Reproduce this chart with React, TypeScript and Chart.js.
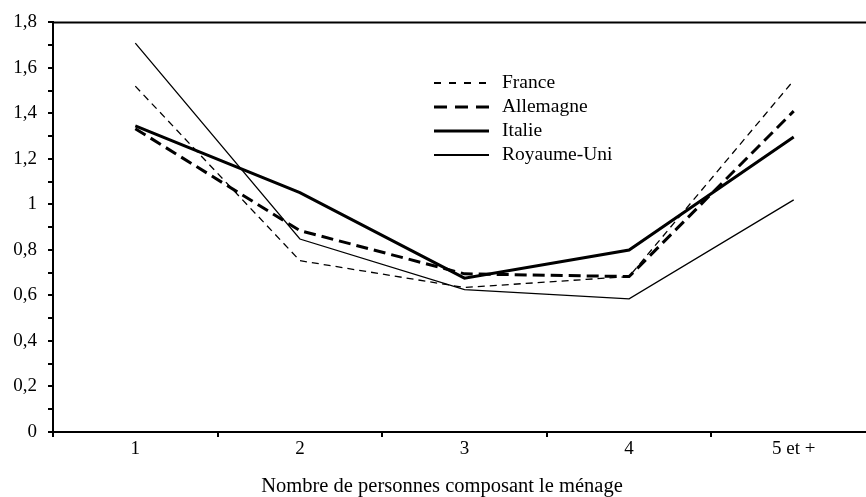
import React, { useEffect, useRef } from "react";
import { Chart, registerables } from "chart.js";

Chart.register(...registerables);

const categories = ["1", "2", "3", "4", "5 et +"];
const france = [1.52, 0.753, 0.635, 0.683, 1.545];
const allemagne = [1.333, 0.885, 0.695, 0.683, 1.41];
const italie = [1.345, 1.052, 0.676, 0.8, 1.296];
const royaumeUni = [1.709, 0.848, 0.626, 0.585, 1.02];
const seriesNames = ["France", "Allemagne", "Italie", "Royaume-Uni"];
const xTitle = "Nombre de personnes composant le ménage";
const yMin = 0;
const yMax = 1.8;
const yStep = 0.1;

const FONT = "'Liberation Serif', 'Times New Roman', serif";

const frameAndLegend = {
  id: "frameAndLegend",
  afterDraw(chart: any) {
    const { ctx, chartArea } = chart;
    const w = chartArea.right - chartArea.left;
    ctx.save();
    // top frame line
    ctx.strokeStyle = "#000";
    ctx.lineWidth = 2;
    ctx.setLineDash([]);
    ctx.beginPath();
    ctx.moveTo(chartArea.left, chartArea.top);
    ctx.lineTo(chartArea.right, chartArea.top);
    ctx.stroke();

    // legend
    const lx0 = chartArea.left + w * ((434 - 53) / 823);
    const lx1 = chartArea.left + w * ((489 - 53) / 823);
    const tx = chartArea.left + w * ((502 - 53) / 823);
    const y0 = 83;
    const dy = 24;
    ctx.font = `19.5px ${FONT}`;
    ctx.fillStyle = "#000";
    ctx.textBaseline = "middle";
    ctx.textAlign = "left";
    chart.data.datasets.forEach((ds: any, i: number) => {
      const y = y0 + i * dy;
      ctx.lineWidth = ds.legendWidth || ds.borderWidth;
      ctx.setLineDash(ds.legendDash || []);
      ctx.beginPath();
      ctx.moveTo(lx0, y);
      ctx.lineTo(lx1, y);
      ctx.stroke();
      ctx.setLineDash([]);
      ctx.fillText(ds.label, tx, y);
    });

    // x-axis title
    ctx.font = `20.5px ${FONT}`;
    ctx.textAlign = "center";
    ctx.fillText(xTitle, chartArea.left + w * ((442 - 53) / 823), 487);
    ctx.restore();
  },
};

export default function App() {
  const ref = useRef<HTMLCanvasElement | null>(null);

  useEffect(() => {
    if (!ref.current) return;
    const chart = new Chart(ref.current, {
      type: "line",
      data: {
        labels: categories,
        datasets: [
          {
            label: seriesNames[0],
            data: france,
            borderColor: "#000",
            borderWidth: 1.3,
            borderDash: [7, 5],
            legendDash: [7, 8],
            legendWidth: 2,
            pointRadius: 0,
            tension: 0,
            fill: false,
          } as any,
          {
            label: seriesNames[1],
            data: allemagne,
            borderColor: "#000",
            borderWidth: 3,
            borderDash: [12, 6],
            legendDash: [13, 8],
            pointRadius: 0,
            tension: 0,
            fill: false,
          } as any,
          {
            label: seriesNames[2],
            data: italie,
            borderColor: "#000",
            borderWidth: 3,
            pointRadius: 0,
            tension: 0,
            fill: false,
          } as any,
          {
            label: seriesNames[3],
            data: royaumeUni,
            borderColor: "#000",
            borderWidth: 1.3,
            legendWidth: 2,
            pointRadius: 0,
            tension: 0,
            fill: false,
          } as any,
        ],
      },
      options: {
        animation: false,
        responsive: false,
        maintainAspectRatio: false,
        layout: { padding: { top: 21, right: 4, left: 0, bottom: 0 } },
        plugins: {
          legend: { display: false },
          tooltip: { enabled: false },
        },
        scales: {
          x: {
            type: "category",
            offset: true,
            grid: {
              display: true,
              drawOnChartArea: false,
              drawTicks: true,
              tickLength: 5,
              color: "#000",
              lineWidth: 2,
              offset: true,
            },
            border: { display: true, color: "#000", width: 2 },
            ticks: {
              color: "#000",
              font: { family: FONT, size: 19 },
              padding: 1,
              maxRotation: 0,
              autoSkip: false,
            },
            afterFit: (s: any) => {
              s.height = 65;
            },
          },
          y: {
            min: yMin,
            max: yMax,
            grid: {
              display: true,
              drawOnChartArea: false,
              drawTicks: true,
              tickLength: 5,
              color: "#000",
              lineWidth: 2,
            },
            border: { display: true, color: "#000", width: 2 },
            ticks: {
              stepSize: yStep,
              color: "#000",
              font: { family: FONT, size: 19 },
              padding: 11,
              autoSkip: false,
              callback: (v: any) => {
                const n = Math.round(Number(v) * 10);
                if (n % 2 !== 0) return "";
                const s = (n / 10).toString().replace(".", ",");
                return s;
              },
            },
            afterFit: (s: any) => {
              s.width = 53;
            },
          },
        },
      },
      plugins: [frameAndLegend],
    });
    return () => chart.destroy();
  }, []);

  return (
    <div
      style={{
        position: "fixed",
        left: 0,
        top: 0,
        width: 866,
        height: 497,
        overflow: "hidden",
        background: "#fff",
      }}
    >
      <canvas ref={ref} width={880} height={497} style={{ display: "block" }} />
    </div>
  );
}
